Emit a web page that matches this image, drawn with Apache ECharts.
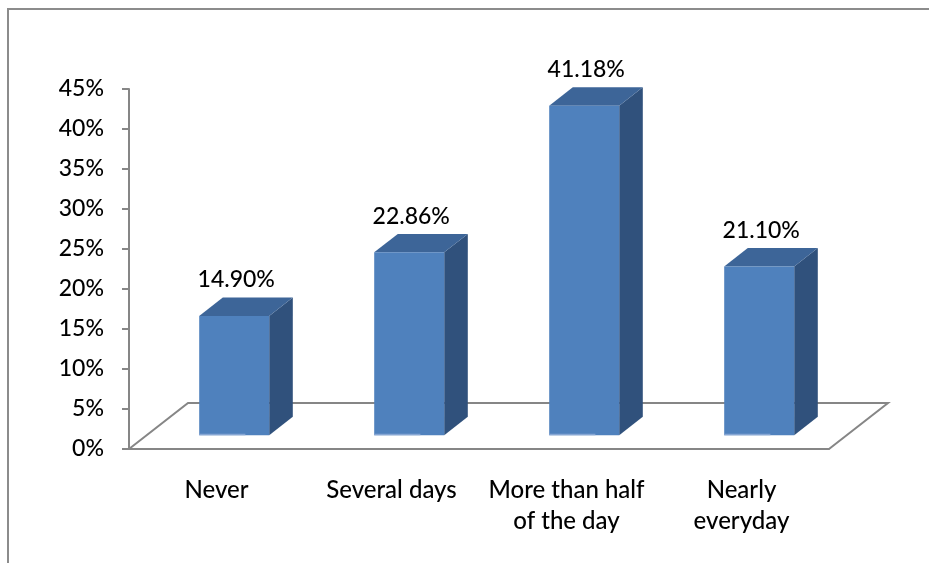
<!DOCTYPE html>
<html>
<head>
<meta charset="utf-8">
<script src="https://cdn.jsdelivr.net/npm/echarts@6/dist/echarts.min.js"></script>
<style>
  html, body { margin: 0; padding: 0; background: #fff; }
  #chart { width: 929px; height: 563px; }
</style>
</head>
<body>
<div id="chart"></div>
<script>
// Survey answers and their shares (percent)
const categories = ['Never', 'Several days', 'More than half\nof the day', 'Nearly\neveryday'];
const shares = [14.90, 22.86, 41.18, 21.10];
const shareLabels = ['14.90%', '22.86%', '41.18%', '21.10%'];
const yTicks = { min: 0, max: 45, step: 5 };

// Oblique depth of the floor (pixels), and bar colours
const DEPTH_X = 59, DEPTH_Y = -46;
const FRONT = '#4f81bd', TOP = '#3d6598', SIDE = '#30517c', EDGE = '#86a6d4';
const AXIS = '#868686';
const FONT = 'Lato';
const WEIGHT = 500;

const chart = echarts.init(document.getElementById('chart'), null, { renderer: 'canvas' });

function renderFloor(params, api) {
  const cs = params.coordSys;
  const x0 = cs.x, y0 = cs.y + cs.height, x1 = cs.x + cs.width;
  return {
    type: 'polyline',
    shape: { points: [[x0, y0], [x0 + DEPTH_X, y0 + DEPTH_Y], [x1 + DEPTH_X, y0 + DEPTH_Y], [x1, y0]] },
    style: { stroke: AXIS, lineWidth: 2, fill: null },
    z2: 0
  };
}

function renderBar(params, api) {
  const i = api.value(0), v = api.value(1);
  const base = api.coord([i, 0]);
  const top = api.coord([i, v]);
  const band = api.size([1, 0])[0];
  const w = band * 0.4;
  const fx = base[0] - w / 2 + DEPTH_X * 0.3;
  const by = base[1] + DEPTH_Y * 0.3;
  const ty = top[1] + DEPTH_Y * 0.3;
  const dx = DEPTH_X * 0.4, dy = DEPTH_Y * 0.4;
  return {
    type: 'group',
    children: [
      { type: 'polygon', shape: { points: [[fx + w, ty], [fx + w + dx, ty + dy], [fx + w + dx, by + dy], [fx + w, by]] },
        style: { fill: SIDE } },
      { type: 'polygon', shape: { points: [[fx, ty], [fx + dx, ty + dy], [fx + w + dx, ty + dy], [fx + w, ty]] },
        style: { fill: TOP } },
      { type: 'rect', shape: { x: fx, y: ty, width: w, height: by - ty }, style: { fill: FRONT } },
      { type: 'rect', shape: { x: fx, y: by - 1.5, width: w * 0.66, height: 1.5 }, style: { fill: EDGE } },
      { type: 'text', x: fx + w / 2 + 2, y: ty - 36,
        style: { text: shareLabels[params.dataIndex], fill: '#000', font: WEIGHT + ' 23px ' + FONT, align: 'center', verticalAlign: 'middle' } }
    ]
  };
}

chart.setOption({
  animation: false,
  backgroundColor: '#fff',
  grid: { left: 129, top: 89, width: 700, height: 360, containLabel: false },
  xAxis: {
    type: 'category',
    data: categories,
    axisLine: { lineStyle: { color: AXIS, width: 2 } },
    axisTick: { length: 7, lineStyle: { color: AXIS, width: 2 } },
    axisLabel: { color: '#000', fontFamily: FONT, fontWeight: WEIGHT, fontSize: 24, margin: 26, lineHeight: 31, interval: 0 }
  },
  yAxis: {
    type: 'value',
    min: yTicks.min, max: yTicks.max, interval: yTicks.step,
    axisLine: { show: true, lineStyle: { color: AXIS, width: 2 } },
    axisTick: { show: true, length: 7, lineStyle: { color: AXIS, width: 2 } },
    axisLabel: { color: '#000', fontFamily: FONT, fontWeight: WEIGHT, fontSize: 23, margin: 25, formatter: '{value}%' },
    splitLine: { show: false }
  },
  graphic: [{
    type: 'polyline',
    shape: { points: [[8, 563], [8, 9], [929, 9]] },
    style: { stroke: '#8c8c8c', lineWidth: 2, fill: null }
  }],
  series: [
    { type: 'custom', renderItem: renderFloor, data: [[0, 0]], z: 1, silent: true },
    { type: 'custom', renderItem: renderBar, data: shares.map((v, i) => [i, v]), z: 2, silent: true }
  ]
});
</script>
</body>
</html>
